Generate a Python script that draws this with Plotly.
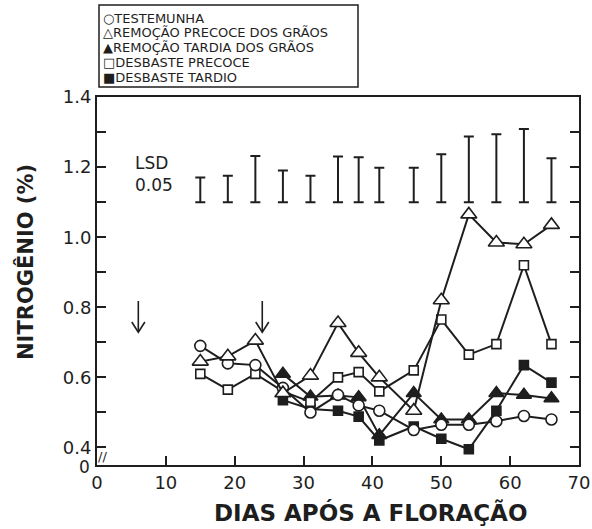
import plotly.graph_objects as go

# ---------------- data ----------------
days = [15, 19, 23, 27, 31, 35, 38, 41, 46, 50, 54, 58, 62, 66]

testemunha = [0.69, 0.64, 0.635, 0.57, 0.50, 0.55, 0.52, 0.505, 0.45, 0.465, 0.465, 0.475, 0.49, 0.48]
remocao_precoce = [0.645, 0.66, 0.705, 0.555, 0.605, 0.755, 0.67, 0.60, 0.505, 0.82, 1.065, 0.985, 0.98, 1.035]
remocao_tardia = [None, None, None, 0.61, 0.545, 0.548, 0.543, 0.435, 0.555, 0.48, 0.48, 0.555, 0.55, 0.54]
desbaste_precoce = [0.61, 0.565, 0.61, 0.56, 0.53, 0.60, 0.615, 0.56, 0.62, 0.765, 0.665, 0.695, 0.92, 0.695]
desbaste_tardio = [None, None, None, 0.535, 0.51, 0.505, 0.488, 0.42, 0.46, 0.425, 0.395, 0.505, 0.635, 0.585]

lsd_low = [1.10] * len(days)
lsd_high = [1.17, 1.175, 1.232, 1.19, 1.175, 1.23, 1.228, 1.198, 1.198, 1.237, 1.287, 1.294, 1.309, 1.225]

arrow_days = [6, 24]

series_names = ["TESTEMUNHA", "REMOÇÃO PRECOCE DOS GRÃOS", "REMOÇÃO TARDIA DOS GRÃOS",
                "DESBASTE PRECOCE", "DESBASTE TARDIO"]
legend_glyphs = ["○", "△", "▲", "□", "■"]

x_ticks = [0, 10, 20, 30, 40, 50, 60, 70]
y_ticks = [0.4, 0.5, 0.6, 0.7, 0.8, 0.9, 1.0, 1.1, 1.2, 1.3, 1.4]
y_ticktext = ["0.4", "", "0.6", "", "0.8", "", "1.0", "", "1.2", "", "1.4"]

# ---------------- figure ----------------
INK = "#1e1e1e"
FONT = "DejaVu Sans"

# page body margin is removed by a post-script, so figure pixels = window pixels
W, H = 592, 529
PL, PR, PT, PB = 97, 579, 97, 465          # plot frame in window pixels
L, T = PL, PT
R, B = W - PR, H - PB
pw, ph = PR - PL, PB - PT


def px(x):
    return (x - PL) / pw


def py(y):
    return (PB - y) / ph


fig = go.Figure()

# LSD bars (centre + half-length, caps at both ends)
mid = [(a + b) / 2 for a, b in zip(lsd_low, lsd_high)]
half = [(b - a) / 2 for a, b in zip(lsd_low, lsd_high)]
fig.add_trace(go.Scatter(
    x=days, y=mid, mode="markers",
    marker=dict(size=1, color="rgba(0,0,0,0)"),
    error_y=dict(type="data", array=half, symmetric=True, thickness=2, width=5, color=INK),
    showlegend=False, hoverinfo="skip"))

styles = [
    (desbaste_tardio, "square", INK, 9, series_names[4]),
    (remocao_tardia, "triangle-up", INK, 13, series_names[2]),
    (desbaste_precoce, "square", "white", 9, series_names[3]),
    (testemunha, "circle", "white", 11, series_names[0]),
    (remocao_precoce, "triangle-up", "white", 14, series_names[1]),
]
for vals, sym, fill, size, nm in styles:
    fig.add_trace(go.Scatter(
        x=days, y=vals, mode="lines+markers", name=nm,
        line=dict(color=INK, width=2),
        marker=dict(symbol=sym, size=size, color=fill, line=dict(color=INK, width=1.6)),
        showlegend=False, connectgaps=False))

# arrows
for d in arrow_days:
    fig.add_shape(type="line", x0=d, x1=d, y0=0.818, y1=0.73, xref="x", yref="y",
                  line=dict(color=INK, width=1.6))
    fig.add_shape(type="path", xref="x", yref="y",
                  path=f"M {d-0.95},0.758 L {d},0.729 L {d+0.95},0.758",
                  line=dict(color=INK, width=1.6))

# legend box
fig.add_shape(type="rect", xref="paper", yref="paper",
              x0=px(99), x1=px(358), y0=py(87), y1=py(5),
              line=dict(color=INK, width=1.5), fillcolor="white")
legend_y = [18, 33, 47.5, 62.5, 77.5]
for g, nm, yy in zip(legend_glyphs, series_names, legend_y):
    fig.add_annotation(x=px(101), y=py(yy), xref="paper", yref="paper",
                       text=f"{g}{nm}", showarrow=False, xanchor="left", yanchor="middle",
                       font=dict(family=FONT, size=13, color=INK))

# LSD label
fig.add_annotation(x=5.2, y=1.18, xref="x", yref="y", text="LSD<br>0.05",
                   showarrow=False, xanchor="left", yanchor="middle", align="left",
                   font=dict(family=FONT, size=17, color=INK))

# "0" at the bottom and axis break
fig.add_annotation(x=px(92), y=py(467), xref="paper", yref="paper", text="0",
                   showarrow=False, xanchor="right", yanchor="middle",
                   font=dict(family=FONT, size=17, color=INK))
fig.add_annotation(x=px(102), y=py(456), xref="paper", yref="paper", text="//",
                   showarrow=False, xanchor="center", yanchor="middle",
                   font=dict(family=FONT, size=13, color=INK))

# axis titles
fig.add_annotation(x=px(370), y=py(512), xref="paper", yref="paper",
                   text="<b>DIAS APÓS A FLORAÇÃO</b>", showarrow=False,
                   xanchor="center", yanchor="middle",
                   font=dict(family=FONT, size=23, color=INK))
fig.add_annotation(x=px(25), y=py(262), xref="paper", yref="paper",
                   text="<b>NITROGÊNIO (%)</b>", showarrow=False, textangle=-90,
                   xanchor="center", yanchor="middle",
                   font=dict(family=FONT, size=21, color=INK))

fig.update_layout(
    width=W, height=H,
    margin=dict(l=L, r=R, t=T, b=B, autoexpand=False),
    paper_bgcolor="white", plot_bgcolor="white",
    font=dict(family=FONT, color=INK),
    showlegend=False,
    xaxis=dict(range=[0, 70], tickvals=x_ticks, ticks="inside", ticklen=9, tickwidth=1.6,
               tickcolor=INK, showline=True, linewidth=2, linecolor=INK, mirror=True,
               showgrid=False, zeroline=False, automargin=False, ticklabeloverflow="allow",
               tickfont=dict(size=18, family=FONT, color=INK)),
    yaxis=dict(range=[0.35, 1.4], tickvals=y_ticks, ticktext=y_ticktext, ticks="inside",
               ticklen=9, tickwidth=1.6, tickcolor=INK, showline=True, linewidth=2,
               linecolor=INK, mirror="ticks", showgrid=False, zeroline=False, automargin=False,
               tickfont=dict(size=18, family=FONT, color=INK)),
)

fig.write_html(
    "out.html",
    config={"displayModeBar": False},
    post_script="document.body.style.margin='0';document.body.style.overflow='hidden';")
